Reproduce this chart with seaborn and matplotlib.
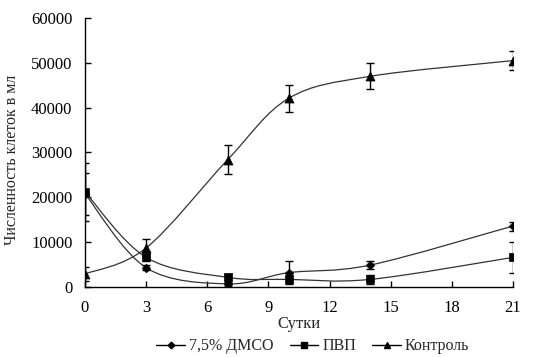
import numpy as np
import matplotlib
matplotlib.use('Agg')
import matplotlib.pyplot as plt
from matplotlib.path import Path
from matplotlib.patches import PathPatch
from matplotlib.lines import Line2D
import seaborn as sns

days = [0, 3, 7, 10, 14, 21]

dmso = [20800, 4300, 700, 3200, 4900, 13600]
dmso_err = [4700, 600, 400, 2600, 800, 1000]

pvp = [21200, 6600, 2150, 1700, 1700, 6600]
pvp_err = [6400, 800, 800, 700, 1000, 3400]

control = [2900, 8700, 28400, 42100, 47000, 50500]
control_err = [1600, 1900, 3200, 3000, 2900, 2200]

labels = ['7,5% ДМСО', 'ПВП', 'Контроль']
markers = ['D', 's', '^']
msizes = [4.5, 6, 6.5]

sns.set_theme(style='ticks')
plt.rcParams['font.family'] = ['Liberation Serif', 'DejaVu Serif']
plt.rcParams['font.size'] = 12


def smooth_path(x, y):
    # Excel-like smoothed line as cubic Bezier segments
    pts = np.column_stack([x, y]).astype(float)
    n = len(pts)
    verts = [pts[0]]
    codes = [Path.MOVETO]
    for i in range(n - 1):
        p0 = pts[i - 1] if i > 0 else pts[i]
        p1 = pts[i]
        p2 = pts[i + 1]
        p3 = pts[i + 2] if i + 2 < n else pts[i + 1]
        c1 = p1 + (p2 - p0) / 6
        c2 = p2 - (p3 - p1) / 6
        verts += [c1, c2, p2]
        codes += [Path.CURVE4] * 3
    return Path(verts, codes)


fig, ax = plt.subplots(figsize=(5.49, 3.57), dpi=100)
fig.subplots_adjust(left=85 / 549, right=513 / 549, top=1 - 18 / 357, bottom=1 - 287 / 357)

for vals, errs, m, ms in zip([dmso, pvp, control], [dmso_err, pvp_err, control_err], markers, msizes):
    ax.add_patch(PathPatch(smooth_path(days, vals), facecolor='none', edgecolor='#333333', lw=0.9))
    ax.errorbar(days, vals, yerr=errs, fmt='none', ecolor='black', elinewidth=1, capsize=3, capthick=1)
    sns.scatterplot(x=days, y=vals, marker=m, s=ms ** 2, color='black', edgecolor='black', ax=ax, zorder=5)

ax.set_xlim(0, 21)
ax.set_ylim(0, 60000)
ax.set_xticks(range(0, 22, 3))
ax.set_yticks(range(0, 60001, 10000))
ax.tick_params(direction='in', length=4, width=1, colors='black', labelsize=12)
ax.tick_params(axis='x', pad=9)
ax.tick_params(axis='y', pad=9)
for s in ['top', 'right']:
    ax.spines[s].set_visible(False)
for s in ['left', 'bottom']:
    ax.spines[s].set_linewidth(1)
    ax.spines[s].set_color('black')
ax.set_xlabel('Сутки', fontsize=12, labelpad=0)
ax.set_ylabel('Численность клеток в мл', fontsize=11.5)
ax.yaxis.set_label_coords(-0.152, 0.472)

handles = [Line2D([], [], color='black', lw=1, marker=m, markersize=ms * 0.75) for m, ms in zip(markers, msizes)]
fig.legend(handles, labels, loc='center', bbox_to_anchor=(0.570, 0.03), ncol=3, frameon=False,
           fontsize=11.5, handlelength=1.8, handletextpad=0.25, columnspacing=1.0,
           borderpad=0.2)

fig.savefig('out.png', dpi=100)
